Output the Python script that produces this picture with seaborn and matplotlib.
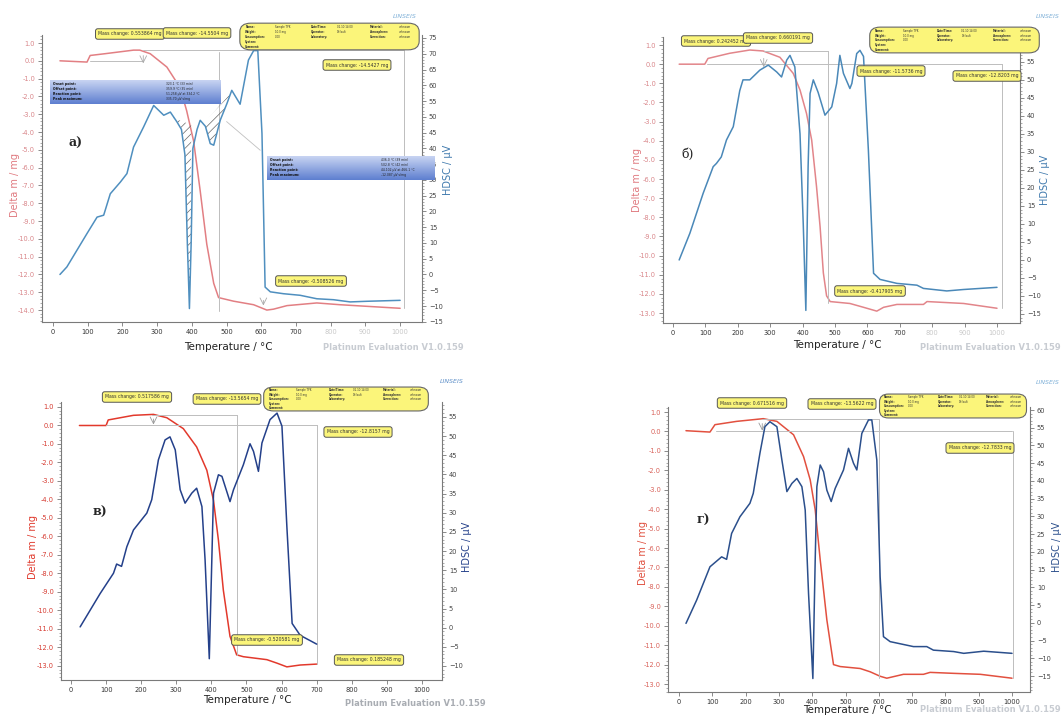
import numpy as np
import matplotlib
matplotlib.use("Agg")
import matplotlib.pyplot as plt
import seaborn as sns
from matplotlib.ticker import MultipleLocator, AutoMinorLocator
from matplotlib.patches import FancyBboxPatch

# ---------------- DATA ----------------
# Panel a)
a_tg_T = [20, 98, 107, 150, 232, 250, 280, 328, 366, 385, 405, 424, 443, 463, 477, 520, 578, 616, 635, 674, 760, 827, 1000]
a_tg_m = [0.0, -0.07, 0.3, 0.4, 0.6, 0.6, 0.4, -0.35, -1.5, -2.8, -4.5, -7.3, -10.3, -12.5, -13.3, -13.5, -13.7, -14.0, -13.95, -13.75, -13.6, -13.7, -13.9]
a_dsc_T = [20, 40, 98, 127, 146, 165, 194, 213, 232, 261, 290, 305, 319, 338, 357, 370, 380, 387, 393, 398, 403, 415, 424, 439, 453, 463, 482, 501, 515, 539, 563, 578, 590, 602, 611, 626, 664, 712, 760, 808, 856, 904, 1000]
a_dsc_v = [0, 2.4, 13, 18.2, 18.8, 25.6, 29.3, 32, 40.4, 46.8, 53.6, 52, 50.5, 51.5, 48.4, 46, 38, 10, -10.8, 10, 40, 46, 48.9, 47, 41.5, 41, 49, 54.2, 58.4, 54, 68, 71, 71, 44.7, -4, -5.5, -6.1, -6.6, -7.7, -8, -8.7, -8.5, -8.2]
a_hatch1_T = [340, 398]
a_hatch1_base = [49.9, 47.5]
a_hatch2_T = [434, 510]
a_hatch2_base = [47.8, 57.3]

# Panel б)
b_tg_T = [19, 98, 108, 175, 237, 278, 330, 371, 392, 412, 428, 443, 454, 464, 474, 485, 546, 588, 629, 650, 691, 773, 784, 897, 1000]
b_tg_m = [0.0, 0.0, 0.3, 0.57, 0.74, 0.69, 0.36, -0.48, -1.35, -2.57, -3.96, -6.4, -8.5, -10.9, -12.1, -12.4, -12.5, -12.7, -12.9, -12.7, -12.55, -12.55, -12.4, -12.5, -12.75]
b_dsc_T = [19, 52, 93, 124, 134, 149, 165, 186, 206, 216, 237, 268, 294, 320, 335, 351, 361, 376, 392, 402, 410, 417, 423, 433, 448, 469, 490, 505, 515, 526, 546, 552, 567, 577, 588, 603, 619, 639, 691, 753, 773, 845, 897, 1000]
b_dsc_v = [0.0, 7.4, 18.5, 25.9, 26.8, 28.6, 33.3, 37, 47, 50, 50, 52.7, 54.1, 52.2, 50.8, 55.5, 56.8, 53.6, 35, 10, -14, 25.9, 46.2, 50, 46.5, 40.2, 42.5, 49, 56.8, 51.8, 47.6, 49, 57.3, 58.2, 56.5, 30.5, -3.7, -5.4, -6.5, -7, -7.9, -8.6, -8.2, -7.6]

# Panel в)
c_tg_T = [24, 100, 106, 178, 235, 273, 320, 358, 387, 406, 420, 434, 453, 472, 491, 558, 587, 615, 653, 700]
c_tg_m = [0.0, 0.0, 0.3, 0.55, 0.6, 0.42, -0.17, -1.16, -2.42, -4.05, -6.2, -8.9, -11.4, -12.4, -12.5, -12.66, -12.85, -13.05, -12.95, -12.9]
c_dsc_T = [26, 83, 121, 130, 144, 159, 178, 216, 230, 249, 268, 282, 297, 311, 325, 344, 358, 373, 382, 394, 401, 406, 420, 430, 453, 463, 491, 510, 520, 534, 544, 567, 587, 601, 615, 630, 653, 700]
c_dsc_v = [0.2, 8.9, 14.2, 16.6, 16.0, 21.1, 25.5, 29.9, 33.4, 43.8, 49, 49.8, 46.4, 36, 32.5, 35.1, 36.4, 31.6, 17.7, -8.1, 17, 35.1, 39.9, 39.5, 32.9, 36, 42.5, 48, 46, 40.8, 48.2, 54.3, 56, 52.6, 26.4, 1.1, -2, -4.3]

# Panel г)
d_tg_T = [21, 93, 108, 173, 253, 294, 344, 374, 394, 409, 424, 444, 464, 484, 544, 574, 604, 624, 674, 734, 754, 825, 905, 1000]
d_tg_m = [0.04, -0.03, 0.35, 0.52, 0.66, 0.52, -0.17, -1.29, -2.49, -4.03, -6.6, -9.7, -12.0, -12.1, -12.2, -12.37, -12.6, -12.7, -12.5, -12.5, -12.4, -12.45, -12.5, -12.7]
d_dsc_T = [21, 53, 93, 128, 143, 158, 183, 213, 223, 243, 258, 273, 294, 309, 324, 339, 354, 369, 379, 389, 402, 409, 414, 424, 434, 444, 457, 469, 494, 509, 524, 534, 549, 569, 579, 594, 604, 614, 634, 704, 744, 764, 825, 855, 915, 1000]
d_dsc_v = [-0.15, 6.4, 15.8, 18.6, 17.9, 25.2, 29.9, 33.7, 36.5, 47.8, 55.3, 56.7, 55.3, 45.9, 37, 39.3, 40.7, 38.4, 31.8, 8.3, -15.7, 17.7, 38.4, 44.5, 42.6, 37.4, 34.2, 37.9, 43.1, 49.2, 45, 43.1, 53.4, 57.2, 57.2, 45.9, 13, -3.9, -5.3, -6.7, -6.7, -7.7, -8.1, -8.6, -8.0, -8.6]

panel_labels = ["a)", "б)", "в)", "г)"]
mass_a = ["Mass change: 0.553864 mg", "Mass change: -14.5504 mg", "Mass change: -14.5427 mg", "Mass change: -0.508526 mg"]
mass_b = ["Mass change: 0.242452 mg", "Mass change: 0.660191 mg", "Mass change: -11.5736 mg", "Mass change: -12.8203 mg", "Mass change: -0.417905 mg"]
mass_c = ["Mass change: 0.517586 mg", "Mass change: -13.5654 mg", "Mass change: -12.8157 mg", "Mass change: -0.520581 mg", "Mass change: 0.185248 mg"]
mass_d = ["Mass change: 0.671516 mg", "Mass change: -13.5622 mg", "Mass change: -12.7833 mg"]

# ---------------- FIGURE ----------------
sns.set_theme(style="white")
plt.rcParams['font.family'] = ['DejaVu Sans']
plt.rcParams['hatch.linewidth'] = 0.5
W, H = 1064, 717
fig = plt.figure(figsize=(W / 100, H / 100), dpi=100)
fig.patch.set_facecolor("white")


def rect(l, t, r, b):
    return [l / W, 1 - b / H, (r - l) / W, (b - t) / H]


def fx(x):
    return x / W


def fy(y):
    return 1 - y / H


def style_axes(ax, ax2, lcol, fade_hi):
    for a in (ax, ax2):
        a.set_facecolor("none")
        for s in a.spines.values():
            s.set_visible(False)
    ax.spines["left"].set_visible(True)
    ax.spines["bottom"].set_visible(True)
    ax2.spines["right"].set_visible(True)
    for s in (ax.spines["left"], ax.spines["bottom"], ax2.spines["right"]):
        s.set_color("#7a7a7a")
        s.set_linewidth(0.8)
    ax.xaxis.set_major_locator(MultipleLocator(100))
    ax.xaxis.set_minor_locator(AutoMinorLocator(5))
    ax.yaxis.set_major_locator(MultipleLocator(1.0))
    ax.yaxis.set_minor_locator(AutoMinorLocator(5))
    ax2.yaxis.set_major_locator(MultipleLocator(5))
    ax2.yaxis.set_minor_locator(AutoMinorLocator(5))
    ax.tick_params(axis="both", which="major", length=3, width=0.6, color="#777", labelsize=4.8, pad=2, direction="out")
    ax.tick_params(axis="both", which="minor", length=1.6, width=0.5, color="#888", direction="out")
    ax2.tick_params(axis="y", which="major", length=3, width=0.6, color="#777", labelsize=4.8, pad=2, direction="out")
    ax2.tick_params(axis="y", which="minor", length=1.6, width=0.5, color="#888", direction="out")
    ax.tick_params(axis="x", bottom=True, labelcolor="#333")
    ax.tick_params(axis="y", left=True, labelcolor=lcol)
    ax2.tick_params(axis="y", right=True, labelcolor="#444")
    ax.yaxis.set_major_formatter(matplotlib.ticker.FuncFormatter(lambda v, p: f"{v:.1f}"))
    ax.set_xticks(list(range(0, 1001, 100)))
    if fade_hi:
        for lab in ax.get_xticklabels():
            if lab.get_text() in ("800", "900", "1000"):
                lab.set_color("#c8c8c8")
    ax.set_xlabel("")
    ax.set_ylabel("")
    ax2.set_ylabel("")


def ybox(x, y, text, fs=3.3):
    fig.text(fx(x), fy(y), text, fontsize=fs, ha="center", va="center", color="#333",
             bbox=dict(boxstyle="round,pad=0.6,rounding_size=0.5", fc="#fbf57a", ec="#555", lw=0.7))


def infobox(l, t, r, b):
    ax = fig.add_axes(rect(l, t, r, b))
    ax.set_xlim(0, 1)
    ax.set_ylim(0, 1)
    ax.axis("off")
    ax.add_patch(FancyBboxPatch((0.01, 0.04), 0.98, 0.92, boxstyle="round,pad=0,rounding_size=0.06",
                                fc="#fbf57a", ec="#666", lw=0.8, transform=ax.transAxes, mutation_aspect=5))
    cols = [(0.04, ["Name:", "Weight:", "Consumption:", "System:", "Comment:"], True),
            (0.2, ["Sample TPK", "10.0 mg", "0.00", "", ""], False),
            (0.4, ["Date/Time:", "Operator:", "Laboratory:", "", ""], True),
            (0.54, ["02.10 14:00", "Default", "", "", ""], False),
            (0.72, ["Material:", "Atmosphere:", "Correction:", "", ""], True),
            (0.88, ["unknown", "unknown", "unknown", "", ""], False)]
    for cx, lines, bold in cols:
        for i, s in enumerate(lines):
            if s:
                ax.text(cx, 0.83 - i * 0.17, s, fontsize=1.9, color="#333", va="center",
                        fontweight="bold" if bold else "normal")


def bluebox(l, t, r, b, vals):
    ax = fig.add_axes(rect(l, t, r, b))
    ax.set_xlim(0, 1)
    ax.set_ylim(0, 1)
    ax.axis("off")
    grad = np.linspace(0, 1, 50).reshape(-1, 1)
    ax.imshow(grad, extent=[0, 1, 0, 1], aspect="auto", cmap=matplotlib.colors.LinearSegmentedColormap.from_list(
        "bb", ["#5e7fd0", "#c8d4f2"]), origin="lower", zorder=0)
    labels = ["Onset point:", "Offset point:", "Reaction point:", "Peak maximum:"]
    for i, s in enumerate(labels):
        ax.text(0.02, 0.82 - i * 0.2, s, fontsize=2.3, color="#111", va="center", fontweight="bold")
        ax.text(0.68, 0.82 - i * 0.2, vals[i], fontsize=2.2, color="#222", va="center")


def panel(box, xlim, ylim, y2lim, tgT, tgm, dT, dv, rcol, bcol, lcol, fade):
    ax = fig.add_axes(rect(*box))
    ax2 = ax.twinx()
    sns.lineplot(x=tgT, y=tgm, ax=ax, color=rcol, lw=1.1, estimator=None, sort=False)
    sns.lineplot(x=dT, y=dv, ax=ax2, color=bcol, lw=1.1, estimator=None, sort=False)
    ax.set_xlim(*xlim)
    ax.set_ylim(*ylim)
    ax2.set_ylim(*y2lim)
    style_axes(ax, ax2, lcol, fade)
    return ax, ax2


guide = "#bdbdbd"

# ---- Panel a ----
axA, axA2 = panel((42, 35, 422, 322), (-31.7, 1063), (-14.67, 1.45), (-15.07, 75.95),
                  a_tg_T, a_tg_m, a_dsc_T, a_dsc_v, "#e27f83", "#4f8fbf", "#d9868a", True)
axA.plot([107, 260], [0.0, 0.0], color=guide, lw=0.7)
axA.plot([260, 1010], [0.6, 0.6], color=guide, lw=0.7)
axA.axvline(479, ymin=0.04, ymax=0.94, color=guide, lw=0.7)
axA.plot([1010, 1010], [0.6, -13.9], color=guide, lw=0.7)
axA.annotate("", xy=(260, -0.3), xytext=(260, 0.45), arrowprops=dict(arrowstyle="->", color="#aaa", lw=0.6))
axA.annotate("", xy=(606, -13.9), xytext=(606, -13.3), arrowprops=dict(arrowstyle="->", color="#aaa", lw=0.6))
axA2.plot([500, 597], [48.5, 39.4], color="#c0c0c0", lw=0.6)
t1 = np.linspace(*a_hatch1_T, 40)
axA2.fill_between(t1, np.interp(t1, a_dsc_T, a_dsc_v), np.interp(t1, a_hatch1_T, a_hatch1_base),
                  facecolor="none", edgecolor="#666", hatch="////", lw=0)
t2 = np.linspace(*a_hatch2_T, 40)
axA2.fill_between(t2, np.interp(t2, a_dsc_T, a_dsc_v), np.interp(t2, a_hatch2_T, a_hatch2_base),
                  facecolor="none", edgecolor="#666", hatch="////", lw=0)
fig.text(fx(76), fy(143), panel_labels[0], fontsize=9, fontweight="bold", family="DejaVu Serif", ha="center", va="center")
fig.text(fx(15), fy(185), "Delta m / mg", rotation=90, fontsize=7, color="#e07a80", ha="center", va="center")
fig.text(fx(448), fy(170), "HDSC / µV", rotation=90, fontsize=7, color="#3f79ad", ha="center", va="center")
fig.text(fx(228), fy(347), "Temperature / °C", fontsize=7.5, color="#222", ha="center", va="center")
fig.text(fx(393), fy(347), "Platinum Evaluation V1.0.159", fontsize=6, color="#c8ccd2", ha="center", va="center", fontweight="bold")
fig.text(fx(405), fy(16), "LINSEIS", fontsize=4.5, color="#7fb0d8", ha="center", va="center", style="italic")
ybox(130, 34, mass_a[0])
ybox(197, 33, mass_a[1])
infobox(238, 22, 421, 51)
ybox(357, 65, mass_a[2])
ybox(311, 281, mass_a[3])
bluebox(50, 80, 220, 104, ["323.1 °C (33 min)", "359.9 °C (35 min)", "51.258 µV at 334.2 °C", "335.70 µV·s/mg"])
bluebox(267, 156, 435, 180, ["436.0 °C (39 min)", "502.8 °C (42 min)", "44.102 µV at 466.1 °C", "-12.087 µV·s/mg"])

# ---- Panel б ----
axB, axB2 = panel((663, 37, 1020, 323), (-30.9, 1071), (-13.52, 1.42), (-17.5, 61.9),
                  b_tg_T, b_tg_m, b_dsc_T, b_dsc_v, "#e2858a", "#4a88b8", "#d9868a", True)
axB.plot([105, 1015], [0.0, 0.0], color=guide, lw=0.7)
axB.plot([280, 479], [0.68, 0.68], color=guide, lw=0.7)
axB.plot([479, 479], [0.68, -12.45], color=guide, lw=0.7)
axB.plot([1015, 1015], [0.0, -12.75], color=guide, lw=0.7)
axB.annotate("", xy=(280, -0.3), xytext=(280, 0.45), arrowprops=dict(arrowstyle="->", color="#aaa", lw=0.6))
fig.text(fx(688), fy(154), panel_labels[1], fontsize=9, family="DejaVu Serif", ha="center", va="center")
fig.text(fx(637), fy(180), "Delta m / mg", rotation=90, fontsize=7, color="#e07a80", ha="center", va="center")
fig.text(fx(1045), fy(180), "HDSC / µV", rotation=90, fontsize=7, color="#3f79ad", ha="center", va="center")
fig.text(fx(837), fy(345), "Temperature / °C", fontsize=7.5, color="#222", ha="center", va="center")
fig.text(fx(1061), fy(348), "Platinum Evaluation V1.0.159", fontsize=6, color="#c8ccd2", ha="right", va="center", fontweight="bold")
fig.text(fx(1060), fy(16), "LINSEIS", fontsize=4.5, color="#7fb0d8", ha="right", va="center", style="italic")
ybox(716, 41, mass_b[0])
ybox(778, 38, mass_b[1])
infobox(868, 26, 1041, 54)
ybox(891, 71, mass_b[2])
ybox(987, 76, mass_b[3])
ybox(870, 291, mass_b[4])

# ---- Panel в ----
axC, axC2 = panel((61, 402, 442, 680), (-28.5, 1057), (-13.76, 1.27), (-13.66, 58.9),
                  c_tg_T, c_tg_m, c_dsc_T, c_dsc_v, "#e2392c", "#24408a", "#d63a30", False)
axC.plot([100, 700], [0.0, 0.0], color=guide, lw=0.7)
axC.plot([230, 472], [0.55, 0.55], color=guide, lw=0.7)
axC.plot([472, 472], [0.55, -12.4], color=guide, lw=0.7)
axC.plot([700, 700], [0.0, -12.9], color=guide, lw=0.7)
axC.annotate("", xy=(235, -0.1), xytext=(235, 0.5), arrowprops=dict(arrowstyle="->", color="#999", lw=0.6))
fig.text(fx(100), fy(512), panel_labels[2], fontsize=9, fontweight="bold", family="DejaVu Serif", ha="center", va="center")
fig.text(fx(33), fy(547), "Delta m / mg", rotation=90, fontsize=7, color="#e0392c", ha="center", va="center")
fig.text(fx(467), fy(547), "HDSC / µV", rotation=90, fontsize=7, color="#24408a", ha="center", va="center")
fig.text(fx(247), fy(700), "Temperature / °C", fontsize=7.5, color="#222", ha="center", va="center")
fig.text(fx(415), fy(704), "Platinum Evaluation V1.0.159", fontsize=6, color="#a9adb3", ha="center", va="center", fontweight="bold")
fig.text(fx(452), fy(382), "LINSEIS", fontsize=4.5, color="#5d8fc8", ha="center", va="center", style="italic")
ybox(137, 397, mass_c[0])
ybox(227, 399, mass_c[1])
infobox(262, 386, 430, 412)
ybox(358, 432, mass_c[2])
ybox(267, 640, mass_c[3])
ybox(369, 660, mass_c[4])

# ---- Panel г ----
axD, axD2 = panel((668, 407, 1030, 692), (-33, 1054), (-13.41, 1.26), (-19.5, 60.85),
                  d_tg_T, d_tg_m, d_dsc_T, d_dsc_v, "#e2503f", "#2b4f8c", "#d9625a", False)
axD.plot([110, 1000], [0.0, 0.0], color=guide, lw=0.7)
axD.plot([250, 602], [0.62, 0.62], color=guide, lw=0.7)
axD.plot([602, 602], [0.62, -12.7], color=guide, lw=0.7)
axD.plot([1003, 1003], [0.0, -12.7], color=guide, lw=0.7)
axD.annotate("", xy=(250, -0.1), xytext=(250, 0.55), arrowprops=dict(arrowstyle="->", color="#999", lw=0.6))
fig.text(fx(703), fy(520), panel_labels[3], fontsize=9, fontweight="bold", family="DejaVu Serif", ha="center", va="center")
fig.text(fx(643), fy(553), "Delta m / mg", rotation=90, fontsize=7, color="#e0503f", ha="center", va="center")
fig.text(fx(1052), fy(547), "HDSC / µV", rotation=90, fontsize=7, color="#2b4f8c", ha="left", va="center")
fig.text(fx(847), fy(710), "Temperature / °C", fontsize=7.5, color="#222", ha="center", va="center")
fig.text(fx(1061), fy(710), "Platinum Evaluation V1.0.159", fontsize=6, color="#c8ccd2", ha="right", va="center", fontweight="bold")
fig.text(fx(1060), fy(383), "LINSEIS", fontsize=4.5, color="#7fb0d8", ha="right", va="center", style="italic")
ybox(752, 403, mass_d[0])
ybox(842, 404, mass_d[1])
infobox(878, 393, 1028, 419)
ybox(980, 448, mass_d[2])

fig.savefig("out.png", dpi=100, facecolor="white")
